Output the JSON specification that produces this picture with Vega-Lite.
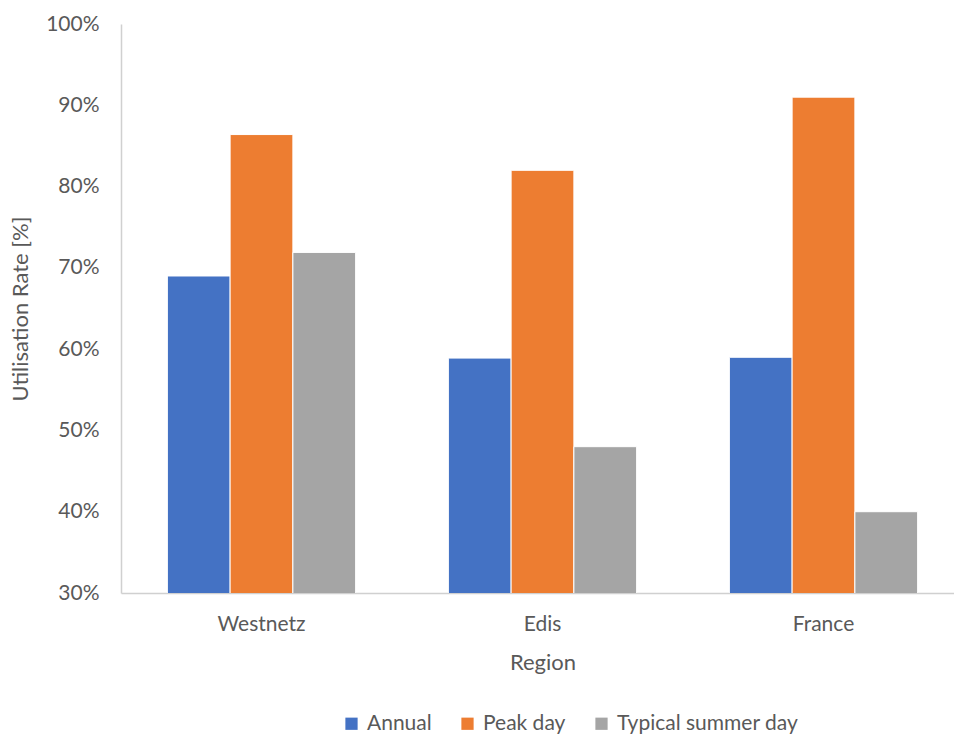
{
  "$schema": "https://vega.github.io/schema/vega-lite/v6.json",
  "width": 843,
  "height": 569,
  "autosize": {"type": "none"},
  "padding": {"left": 121, "top": 24, "right": 0, "bottom": 142},
  "background": "white",
  "config": {
    "font": "Lato",
    "view": {"stroke": null},
    "axis": {"labelFont": "Lato", "titleFont": "Lato", "labelColor": "#595959", "titleColor": "#595959", "labelFontSize": 21, "titleFontSize": 22, "titleFontWeight": "normal", "grid": false, "ticks": false, "domainColor": "#d0d0d0", "domainWidth": 1.5}
  },
  "data": {
    "values": [
      {"region": "Westnetz", "series": "Annual", "value": 0.69},
      {"region": "Westnetz", "series": "Peak day", "value": 0.864},
      {"region": "Westnetz", "series": "Typical summer day", "value": 0.719},
      {"region": "Edis", "series": "Annual", "value": 0.589},
      {"region": "Edis", "series": "Peak day", "value": 0.82},
      {"region": "Edis", "series": "Typical summer day", "value": 0.48},
      {"region": "France", "series": "Annual", "value": 0.59},
      {"region": "France", "series": "Peak day", "value": 0.91},
      {"region": "France", "series": "Typical summer day", "value": 0.40}
    ]
  },
  "mark": {"type": "bar", "stroke": "white", "strokeWidth": 1, "clip": true},
  "encoding": {
    "x": {
      "field": "region", "type": "nominal", "sort": ["Westnetz", "Edis", "France"],
      "scale": {"paddingInner": 0.33, "paddingOuter": 0.165},
      "axis": {"title": "Region", "labelAngle": 0, "labelPadding": 20, "titlePadding": 18}
    },
    "xOffset": {"field": "series", "type": "nominal", "sort": ["Annual", "Peak day", "Typical summer day"], "scale": {"paddingInner": 0, "paddingOuter": 0}},
    "y": {
      "field": "value", "type": "quantitative",
      "scale": {"domain": [0.3, 1], "nice": false, "zero": false},
      "axis": {"title": "Utilisation Rate [%]", "format": ".0%", "values": [0.3, 0.4, 0.5, 0.6, 0.7, 0.8, 0.9, 1.0], "labelPadding": 22, "titlePadding": 13}
    },
    "color": {
      "field": "series", "type": "nominal",
      "scale": {"domain": ["Annual", "Peak day", "Typical summer day"], "range": ["#4472C4", "#ED7D31", "#A5A5A5"]},
      "legend": {"title": null, "orient": "none", "direction": "horizontal", "legendX": 220, "legendY": 689, "symbolType": "square", "symbolSize": 150, "symbolStrokeWidth": 0, "labelFontSize": 21, "labelColor": "#595959", "labelFont": "Lato", "labelLimit": 0, "columnPadding": 25, "labelOffset": 5}
    }
  }
}
